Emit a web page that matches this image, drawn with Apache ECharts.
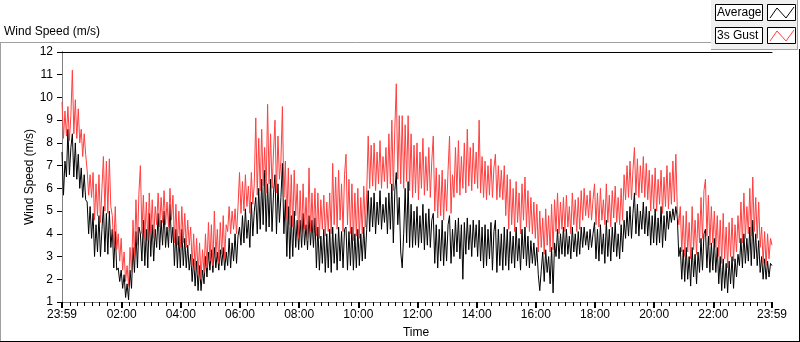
<!DOCTYPE html>
<html>
<head>
<meta charset="utf-8">
<title>Wind Speed</title>
<script src="https://cdn.jsdelivr.net/npm/echarts@6/dist/echarts.min.js"></script>
<style>
  html, body { margin: 0; padding: 0; background: #fff; }
  #chart { width: 800px; height: 342px; }
</style>
</head>
<body>
<div id="chart"></div>
<script>
// one sample every 3 minutes, first sample at 23:59 of the day before
const stepMinutes = 3;

// 3s gust (m/s), one row per hour
const gustSpeed = [
  9.8, 8.2, 9.4, 8.3, 9.6, 8.1, 9.2, 11.2, 8.4, 9.9, 8.2, 9.5, 8.0, 8.6, 7.4, 8.4, 7.5, 6.8, 5.7, 6.6,
  5.6, 6.7, 4.6, 6.2, 4.8, 6.6, 4.5, 6.0, 7.4, 5.0, 7.2, 4.9, 7.3, 5.2, 4.8, 3.4, 5.2, 3.3, 4.0, 2.8,
  3.8, 2.4, 3.2, 1.9, 2.6, 1.7, 3.4, 2.3, 4.6, 3.0, 5.5, 3.5, 5.8, 7.0, 4.0, 5.7, 3.8, 5.4, 3.7, 5.8,
  4.0, 5.5, 3.8, 5.2, 4.4, 5.8, 4.3, 5.6, 4.5, 5.9, 4.4, 5.4, 4.3, 6.0, 4.6, 5.7, 3.6, 5.3, 3.5, 5.0,
  3.4, 5.2, 3.6, 4.9, 3.4, 4.6, 3.5, 4.3, 2.6, 4.0, 2.4, 3.8, 2.2, 3.6, 2.0, 3.3, 2.3, 4.0, 2.5, 4.5,
  2.8, 4.4, 2.6, 5.0, 3.0, 4.2, 2.7, 4.5, 3.1, 4.8, 2.9, 4.4, 4.1, 5.2, 4.0, 5.0, 4.2, 5.1, 4.0, 5.2,
  6.7, 4.9, 6.3, 5.0, 6.6, 5.2, 6.1, 4.9, 6.7, 5.3, 6.2, 9.1, 5.7, 8.2, 5.9, 8.6, 6.1, 7.8, 5.8, 9.7,
  6.2, 8.4, 6.0, 7.6, 9.0, 5.8, 8.3, 6.4, 7.2, 9.6, 5.6, 7.2, 4.6, 6.9, 4.4, 6.6, 4.3, 6.8, 4.8, 6.2,
  3.8, 5.9, 4.0, 6.2, 4.2, 5.6, 3.7, 6.9, 4.1, 5.8, 4.0, 6.0, 3.9, 5.8, 3.8, 5.5, 4.2, 5.7, 3.9, 5.4,
  4.1, 5.8, 4.0, 7.1, 4.4, 6.5, 4.2, 6.8, 4.6, 6.2, 4.1, 6.6, 7.5, 4.4, 6.4, 4.0, 6.2, 3.7, 5.8, 3.9,
  6.0, 3.8, 5.6, 4.0, 6.1, 4.3, 5.8, 8.3, 6.0, 7.9, 6.1, 8.0, 5.9, 7.6, 6.2, 8.1, 6.0, 7.4, 6.3, 7.8,
  6.0, 8.4, 6.2, 9.0, 5.9, 8.6, 10.6, 6.4, 9.2, 6.2, 9.2, 6.0, 8.8, 6.3, 9.2, 5.9, 8.4, 5.6, 7.9, 5.8,
  8.0, 5.5, 7.6, 6.0, 8.2, 5.7, 7.4, 5.9, 7.8, 5.6, 7.2, 8.3, 5.0, 6.9, 4.7, 6.6, 4.8, 6.8, 4.6, 6.4,
  5.0, 6.8, 8.3, 4.9, 6.6, 5.6, 7.8, 5.8, 8.1, 5.7, 7.4, 6.0, 8.0, 5.8, 8.6, 6.1, 7.8, 5.9, 8.0, 6.2,
  7.6, 6.0, 9.0, 5.8, 7.4, 5.6, 7.2, 5.5, 7.0, 5.7, 7.3, 5.6, 6.9, 7.5, 5.5, 7.0, 5.6, 6.8, 5.5, 7.0,
  4.8, 6.6, 4.2, 6.4, 4.4, 6.0, 4.1, 6.3, 4.5, 5.8, 4.0, 6.2, 4.6, 6.5, 4.3, 5.9, 4.1, 5.6, 4.0, 5.4,
  3.8, 5.3, 3.2, 5.0, 3.4, 4.7, 3.1, 5.1, 3.5, 4.8, 3.2, 5.3, 3.3, 5.5, 4.1, 5.8, 4.0, 5.4, 4.2, 5.6,
  4.1, 5.7, 4.3, 5.2, 4.0, 5.8, 4.4, 5.5, 4.1, 5.6, 4.2, 5.9, 4.6, 6.0, 4.8, 5.7, 4.7, 5.9, 4.6, 5.5,
  6.2, 4.4, 5.8, 4.3, 6.0, 4.6, 5.5, 4.4, 6.2, 4.5, 5.7, 4.3, 5.9, 4.7, 6.1, 4.5, 5.6, 4.4, 6.0, 4.6,
  6.6, 5.5, 7.0, 5.6, 7.2, 5.5, 6.8, 7.8, 5.7, 7.3, 5.6, 7.0, 5.8, 7.4, 5.6, 7.1, 5.5, 6.8, 5.0, 6.6,
  5.1, 6.9, 5.0, 6.4, 5.3, 6.8, 4.9, 6.5, 5.2, 7.0, 5.1, 6.7, 5.3, 7.2, 5.4, 7.5, 5.0, 4.4, 5.2, 3.2,
  4.8, 3.0, 5.0, 3.2, 4.5, 2.9, 5.2, 3.3, 4.6, 3.1, 4.9, 3.6, 5.6, 3.8, 5.9, 6.4, 3.9, 5.7, 3.5, 5.2,
  3.6, 5.0, 3.4, 4.8, 3.0, 4.6, 2.7, 4.9, 2.9, 4.3, 2.5, 4.5, 3.0, 4.7, 2.8, 4.4, 3.2, 4.8, 3.6, 5.4,
  3.6, 5.8, 3.8, 5.2, 4.0, 6.0, 3.9, 6.5, 4.1, 5.6, 3.8, 5.4, 3.4, 4.3, 2.7, 4.1, 2.6, 4.0, 2.9, 3.8,
  3.5
];

// average (m/s), one row per hour
const averageSpeed = [
  7.6, 5.7, 7.2, 6.5, 8.6, 6.6, 7.8, 8.4, 6.5, 8.0, 6.4, 7.5, 6.0, 6.9, 5.6, 6.6, 5.5, 5.4, 4.0, 5.2,
  3.8, 4.9, 3.0, 4.4, 3.2, 4.8, 3.0, 4.2, 5.2, 3.2, 4.9, 3.1, 5.0, 3.4, 4.2, 2.5, 4.1, 2.4, 2.5, 1.9,
  2.4, 1.6, 2.2, 1.2, 1.8, 1.1, 2.4, 1.6, 3.4, 2.3, 4.1, 2.5, 4.3, 4.0, 2.8, 4.6, 2.6, 4.2, 2.5, 4.9,
  3.0, 4.4, 2.8, 4.2, 3.4, 4.9, 3.3, 4.6, 3.5, 5.0, 3.4, 4.3, 3.4, 5.3, 3.6, 4.3, 2.6, 4.2, 2.5, 3.9,
  2.5, 4.2, 2.6, 3.8, 2.5, 3.5, 2.4, 3.1, 1.9, 2.9, 1.7, 2.8, 1.5, 2.6, 1.5, 2.4, 1.8, 3.0, 2.1, 3.2,
  2.4, 3.3, 2.3, 3.4, 2.5, 3.2, 2.4, 3.3, 2.6, 3.4, 2.4, 3.2, 2.6, 3.8, 2.5, 3.6, 2.8, 4.0, 2.7, 3.9,
  4.3, 3.5, 4.8, 3.6, 5.1, 3.8, 4.6, 3.4, 5.4, 3.9, 5.0, 5.6, 4.0, 6.0, 4.2, 6.4, 4.4, 6.8, 4.1, 6.2,
  4.3, 6.4, 4.1, 5.8, 6.6, 4.0, 6.2, 4.5, 5.6, 7.1, 4.0, 5.5, 3.0, 5.2, 2.9, 4.8, 3.0, 5.0, 3.4, 4.6,
  3.3, 4.6, 3.4, 4.9, 3.5, 4.4, 3.3, 4.8, 3.5, 4.6, 3.4, 4.7, 2.5, 4.3, 2.4, 3.9, 2.7, 4.2, 2.3, 4.0,
  2.5, 4.2, 2.3, 4.3, 2.7, 4.0, 2.4, 4.3, 2.8, 4.1, 2.5, 4.2, 4.3, 2.4, 4.1, 2.6, 4.3, 2.4, 4.0, 2.5,
  4.2, 2.6, 4.0, 2.8, 4.3, 2.9, 4.2, 5.9, 4.1, 5.6, 4.3, 5.8, 4.0, 5.4, 4.4, 5.9, 4.2, 5.3, 4.5, 5.6,
  4.0, 5.8, 4.2, 6.2, 3.6, 5.9, 6.7, 4.4, 5.6, 3.2, 2.5, 4.0, 6.0, 3.6, 6.3, 3.4, 5.3, 3.4, 5.0, 3.5,
  5.2, 3.4, 4.8, 3.6, 5.3, 3.3, 4.9, 3.5, 5.1, 3.4, 4.6, 4.9, 2.7, 4.4, 2.5, 4.2, 2.8, 4.6, 2.6, 4.1,
  2.8, 4.4, 4.8, 2.7, 4.2, 3.0, 4.6, 3.2, 4.7, 2.9, 4.4, 2.0, 4.5, 3.1, 4.7, 3.3, 4.4, 3.0, 4.6, 3.4,
  4.4, 3.0, 4.6, 2.8, 4.3, 2.5, 4.4, 2.6, 4.2, 2.9, 4.5, 2.4, 4.1, 4.6, 2.3, 4.2, 2.6, 4.0, 2.4, 4.3,
  2.6, 4.2, 2.4, 4.1, 2.7, 3.9, 2.5, 4.3, 2.8, 3.8, 2.4, 4.2, 2.9, 4.3, 2.6, 3.9, 2.5, 3.7, 2.7, 3.6,
  2.6, 3.4, 2.2, 1.5, 2.4, 3.2, 1.9, 3.3, 2.3, 3.0, 1.8, 3.4, 1.4, 3.6, 3.0, 4.2, 2.9, 4.0, 3.1, 4.3,
  3.0, 4.2, 3.1, 3.9, 2.9, 4.3, 3.2, 4.0, 3.0, 4.1, 3.1, 4.3, 3.4, 4.3, 3.5, 4.1, 3.3, 4.2, 3.4, 4.0,
  4.5, 2.9, 4.2, 2.8, 4.4, 3.1, 4.0, 2.7, 4.6, 3.0, 4.2, 2.8, 4.3, 3.2, 4.5, 3.0, 4.0, 2.9, 4.4, 3.2,
  4.6, 3.8, 5.0, 3.9, 5.2, 3.8, 4.9, 5.8, 4.0, 5.3, 3.9, 5.0, 4.2, 5.4, 4.0, 5.2, 3.9, 5.0, 3.5, 4.8,
  3.6, 5.1, 3.5, 4.7, 3.6, 5.2, 3.4, 4.8, 3.7, 5.0, 4.2, 5.0, 4.5, 5.1, 4.6, 5.2, 4.7, 3.0, 3.4, 2.0,
  3.3, 1.9, 3.4, 2.0, 3.0, 1.7, 3.4, 2.1, 3.1, 1.8, 3.2, 2.3, 3.8, 2.4, 4.0, 4.2, 2.5, 3.9, 2.3, 3.6,
  2.4, 3.8, 2.3, 3.4, 1.8, 3.0, 1.5, 2.9, 1.6, 2.7, 1.4, 2.8, 1.8, 3.0, 1.6, 2.9, 2.1, 3.1, 2.6, 3.8,
  2.5, 4.0, 2.7, 3.8, 2.8, 4.3, 2.6, 4.6, 2.9, 4.0, 2.6, 3.7, 2.3, 3.0, 2.0, 2.9, 2.0, 2.8, 2.1, 2.7,
  2.6
];

// x axis labels and where they sit (minutes after 23:59)
const timeLabels = ['23:59', '02:00', '04:00', '06:00', '08:00', '10:00', '12:00',
  '14:00', '16:00', '18:00', '20:00', '22:00', '23:59'];
const labelMinutes = [0, 121, 241, 361, 481, 601, 721, 841, 961, 1081, 1201, 1321, 1440];

// small ticks every quarter hour
const minorTicks = [];
for (let m = 1; m < 1440; m += 15) minorTicks.push(m);

const font = 'Liberation Sans, Arial, sans-serif';

const chart = echarts.init(document.getElementById('chart'));

const hiddenAxis = {
  axisTick: { show: false },
  axisLabel: { show: false },
  splitLine: { show: false }
};

chart.setOption({
  animation: false,
  backgroundColor: '#fff',
  grid: { left: 62, top: 52, width: 710, height: 250 },
  xAxis: [
    {
      type: 'value', min: 0, max: 1440, position: 'bottom',
      axisLine: { show: true, lineStyle: { color: '#808080' } },
      axisTick: { show: true, customValues: labelMinutes, length: 6, lineStyle: { color: '#000', width: 2 } },
      axisLabel: {
        customValues: labelMinutes, margin: 7, fontSize: 12, fontFamily: font, color: '#000',
        formatter: v => timeLabels[labelMinutes.indexOf(v)] || ''
      },
      splitLine: { show: false }
    },
    Object.assign({
      type: 'value', min: 0, max: 1440, position: 'bottom',
      axisLine: { show: false }
    }, hiddenAxis, {
      axisTick: { show: true, customValues: minorTicks, length: 4, lineStyle: { color: '#000' } }
    }),
    Object.assign({
      type: 'value', min: 0, max: 1440, position: 'top',
      axisLine: { show: true, lineStyle: { color: '#000' } }
    }, hiddenAxis)
  ],
  yAxis: [
    {
      type: 'value', min: 1, max: 12, interval: 1,
      axisLine: { show: true, lineStyle: { color: '#000' } },
      axisTick: { show: true, length: 5, lineStyle: { color: '#000' } },
      axisLabel: { margin: 9, fontSize: 12, fontFamily: font, color: '#000' },
      splitLine: { show: false }
    },
    Object.assign({
      type: 'value', min: 1, max: 12, position: 'right',
      axisLine: { show: true, lineStyle: { color: '#808080' } }
    }, hiddenAxis)
  ],
  series: [
    {
      name: 'Average', type: 'line', showSymbol: false, symbol: 'none',
      lineStyle: { color: '#000', width: 1 },
      data: averageSpeed.map((v, i) => [i * stepMinutes, v])
    },
    {
      name: '3s Gust', type: 'line', showSymbol: false, symbol: 'none',
      lineStyle: { color: '#ff3f3f', width: 1 },
      data: gustSpeed.map((v, i) => [i * stepMinutes, v])
    }
  ],
  graphic: [
    // outer frame
    { type: 'line', shape: { x1: 0, y1: 42.5, x2: 711, y2: 42.5 }, style: { stroke: '#a0a0a0' } },
    { type: 'line', shape: { x1: 0.5, y1: 42, x2: 0.5, y2: 342 }, style: { stroke: '#a0a0a0' } },
    { type: 'line', shape: { x1: 0, y1: 341.5, x2: 800, y2: 341.5 }, style: { stroke: '#000' } },
    { type: 'line', shape: { x1: 799.5, y1: 49, x2: 799.5, y2: 342 }, style: { stroke: '#000' } },
    // legend panel
    { type: 'rect', shape: { x: 711, y: 0, width: 87, height: 49 }, style: { fill: '#f0f0f0' } },
    { type: 'line', shape: { x1: 711, y1: 49.5, x2: 798, y2: 49.5 }, style: { stroke: '#a0a0a0' } },
    { type: 'line', shape: { x1: 797.5, y1: 0, x2: 797.5, y2: 50 }, style: { stroke: '#a0a0a0' } },
    { type: 'rect', shape: { x: 715.5, y: 4.5, width: 47, height: 16 }, style: { fill: '#fff', stroke: '#000' } },
    { type: 'text', x: 717, y: 13, style: { text: 'Average', font: '12px ' + font, fill: '#000', verticalAlign: 'middle' } },
    { type: 'rect', shape: { x: 767.5, y: 4.5, width: 28, height: 16 }, style: { fill: '#fff', stroke: '#000' } },
    { type: 'polyline', shape: { points: [[770, 18], [777, 8], [786, 18], [794, 7]] }, style: { stroke: '#000', fill: null } },
    { type: 'rect', shape: { x: 715.5, y: 27.5, width: 47, height: 16 }, style: { fill: '#fff', stroke: '#000' } },
    { type: 'text', x: 717, y: 36, style: { text: '3s Gust', font: '12px ' + font, fill: '#000', verticalAlign: 'middle' } },
    { type: 'rect', shape: { x: 767.5, y: 27.5, width: 28, height: 16 }, style: { fill: '#fff', stroke: '#000' } },
    { type: 'polyline', shape: { points: [[770, 41], [777, 31], [786, 41], [794, 30]] }, style: { stroke: '#ff3f3f', fill: null } },
    // titles
    { type: 'text', x: 4, y: 32, style: { text: 'Wind Speed (m/s)', font: '12px ' + font, fill: '#000', verticalAlign: 'middle' } },
    { type: 'text', x: 30, y: 177, rotation: Math.PI / 2, style: { text: 'Wind Speed (m/s)', font: '12px ' + font, fill: '#000', align: 'center', verticalAlign: 'middle' } },
    { type: 'text', x: 416, y: 333, style: { text: 'Time', font: '12px ' + font, fill: '#000', align: 'center', verticalAlign: 'middle' } }
  ]
});
</script>
</body>
</html>
